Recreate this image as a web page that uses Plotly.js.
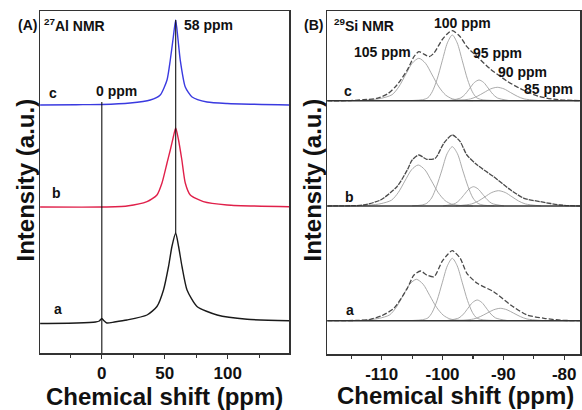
<!DOCTYPE html>
<html>
<head>
<meta charset="utf-8">
<script src="https://cdn.plot.ly/plotly-3.0.1.min.js"></script>
<style>html,body{margin:0;padding:0;background:#fff;}#chart{width:582px;height:410px;}</style>
</head>
<body>
<div id="chart"></div>
<script>
// ---------- 27Al NMR (panel A): chemical shift (ppm) and intensity above each trace's baseline ----------
const alC_x = [-49, -20, 0, 22.5, 38.5, 46.4, 51.8, 54.4, 56.8, 58.7, 60.5, 62.3, 66.3, 71.7, 83.6, 99.5, 149];
const alC_y = [0, 0.3, 0.5, 2, 5, 10, 25, 45, 68, 85, 66, 45, 18, 8, 3, 1.5, 0];
const alB_x = [-49, 0, 20, 35.9, 43.8, 47.8, 51.8, 54.4, 56.8, 58.7, 60.8, 63.6, 66.3, 70.3, 80.7, 99.5, 149];
const alB_y = [0, 0, 1, 5.3, 12, 24, 44, 57, 70, 79, 68, 47, 24, 12, 5.3, 2, 0.3];
const alA_x = [-49, -20, -5, -2, 0, 1.5, 4, 10, 20, 35.9, 43.8, 49, 53, 55.7, 58.7, 61, 63.7, 67.7, 75.6, 91.6, 115.4, 149];
const alA_y = [0, 0.5, 1.5, 2.5, 5, 3, 0.5, 1.5, 3.5, 8.5, 17, 33.5, 57, 77, 90.5, 77, 57, 33.5, 17, 8.5, 4.2, 2.8];
const alOffsets = [248, 146, 29.5];          // c, b, a
const alNames = ['c', 'b', 'a'];
// reference lines at 0 ppm and 58 ppm
const alRefX = [0, 58.7];
const alRefLow = [0, 120];
const alRefHigh = [251, 333];

// ---------- 29Si NMR (panel B) ----------
const siC_env_x = [-119, -115.7, -113, -110.8, -109, -107.5, -105.8, -104.7, -103.9, -102.9, -102.2, -101.4, -100.1, -99.2, -98.4, -97.1, -96, -94.3, -92.2, -89.5, -87.2, -84, -81, -77.4];
const siC_env_y = [0, 0, 1, 2.4, 7, 15.7, 30.7, 44, 49, 46, 44, 47.7, 60.7, 67, 70, 64, 54, 44, 32, 20, 12, 4, 1, 0];
const siC_q4a_x = [-113, -111, -110, -108.3, -107.2, -106.1, -105, -103.9, -102.8, -101.7, -100.6, -99.5, -98.4, -97, -95];
const siC_q4a_y = [0.5, 1.5, 2.5, 6, 13.8, 25.7, 37.4, 42.4, 37.4, 25.7, 13.8, 5.7, 1.9, 0.5, 0];
const siC_q4b_x = [-105, -103.3, -102.4, -101.7, -100.9, -100.05, -99.2, -98.4, -97.6, -96.75, -95.9, -95.1, -94.4, -93.5, -91.5];
const siC_q4b_y = [0.2, 1, 3, 8.9, 21.4, 39.9, 57.9, 65.7, 57.9, 39.9, 21.4, 8.9, 3, 1, 0.2];
const siC_q3_x = [-99, -97, -96.25, -95.5, -94.75, -94, -93.25, -92.5, -91.75, -91, -89];
const siC_q3_y = [0.1, 2.8, 6.7, 12.6, 18.3, 20.7, 18.3, 12.6, 6.7, 2.8, 0.1];
const siC_q2_x = [-98, -95.4, -94.3, -93.2, -92.1, -91, -89.9, -88.8, -87.7, -86.6, -84];
const siC_q2_y = [0.1, 1.8, 4.4, 8.1, 11.8, 13.4, 11.8, 8.1, 4.4, 1.8, 0.1];

const siB_env_x = [-119, -115, -113, -110.2, -107.5, -105.8, -105, -103.9, -102.6, -101.2, -99.8, -98.4, -97.1, -96, -94.3, -91.6, -88.8, -86.6, -83.9, -80.6, -77.4];
const siB_env_y = [0, 0.3, 1, 6, 19.3, 36, 46, 51, 46.7, 47.7, 62.7, 71, 64.3, 51, 41, 29.3, 16, 7.7, 4.3, 1, 0];
const siB_q4a_x = [-113, -111, -110.1, -108.4, -107.3, -106.2, -105.1, -104, -102.9, -101.8, -100.7, -99.6, -98.5, -97, -95];
const siB_q4a_y = [0.5, 1.5, 2.4, 5.8, 13.3, 24.9, 36.2, 41, 36.2, 24.9, 13.3, 5.5, 1.8, 0.5, 0];
const siB_q4b_x = [-105, -103.5, -102.6, -101.8, -101, -100.1, -99.25, -98.4, -97.55, -96.7, -95.8, -95, -94.2, -93.3, -91.5];
const siB_q4b_y = [0.2, 0.9, 2.7, 8.0, 19.3, 36, 52.3, 59.3, 52.3, 36, 19.3, 8.0, 2.7, 0.9, 0.2];
const siB_q3_x = [-99.9, -97.9, -97.15, -96.4, -95.65, -94.9, -94.15, -93.4, -92.65, -91.9, -89.9];
const siB_q3_y = [0.1, 2.6, 6.3, 11.7, 17, 19.3, 17, 11.7, 6.3, 2.6, 0.1];
const siB_q2_x = [-97.8, -95.2, -94.1, -93, -91.9, -90.8, -89.7, -88.6, -87.5, -86.4, -83.8];
const siB_q2_y = [0.1, 2.1, 5, 9.3, 13.5, 15.3, 13.5, 9.3, 5, 2.1, 0.1];

const siA_env_x = [-119, -114, -111.9, -110, -108, -105.8, -104.7, -103.6, -102.6, -101.4, -100.1, -99.2, -98.4, -97.1, -96, -94.3, -91.6, -88.8, -86.1, -83.3, -80.6, -77.4];
const siA_env_y = [0, 0.3, 1.3, 5, 12.4, 32.4, 45.7, 49.7, 45.7, 44, 59, 66, 70, 62.4, 47.4, 37.4, 29, 15.7, 5.7, 2.4, 0.5, 0];
const siA_q4a_x = [-113.3, -111.3, -110.4, -108.7, -107.6, -106.5, -105.4, -104.3, -103.2, -102.1, -101, -99.9, -98.8, -97.3, -95.3];
const siA_q4a_y = [0.5, 1.5, 2.4, 5.8, 13.5, 25.1, 36.5, 41.4, 36.5, 25.1, 13.5, 5.6, 1.8, 0.5, 0];
const siA_q4b_x = [-105, -103.3, -102.4, -101.7, -100.9, -100.05, -99.2, -98.4, -97.6, -96.75, -95.9, -95.1, -94.4, -93.5, -91.5];
const siA_q4b_y = [0.2, 1, 2.8, 8.4, 20.3, 37.9, 55, 62.4, 55, 37.9, 20.3, 8.4, 2.8, 1, 0.2];
const siA_q3_x = [-99.3, -97.3, -96.55, -95.8, -95.05, -94.3, -93.55, -92.8, -92.05, -91.3, -89.3];
const siA_q3_y = [0.1, 2.8, 6.7, 12.6, 18.3, 20.7, 18.3, 12.6, 6.7, 2.8, 0.1];
const siA_q2_x = [-97.5, -94.9, -93.8, -92.7, -91.6, -90.5, -89.4, -88.3, -87.2, -86.1, -83.5];
const siA_q2_y = [0.1, 1.7, 4.1, 7.5, 10.9, 12.4, 10.9, 7.5, 4.1, 1.7, 0.1];

const siOffsets = [253.3, 148, 33.3];        // c, b, a

// tick labels
const alTickVals = [0, 50, 100];
const alTickText = ['0', '50', '100'];
const siTickVals = [-110, -100, -90, -80];
const siTickText = ['-110', '-100', '-90', '-80'];

// ---------- build ----------
const W = 582, H = 410;
const FONT = '"Liberation Sans", Arial, Helvetica, sans-serif';
const add = (arr, off) => arr.map(v => v + off);
const traces = [];

const alSeries = [[alC_x, alC_y, '#3a3ae0'], [alB_x, alB_y, '#e0204a'], [alA_x, alA_y, '#1a1a1a']];
alSeries.forEach((s, i) => {
  traces.push({x: s[0], y: add(s[1], alOffsets[i]), type: 'scatter', mode: 'lines',
    line: {color: s[2], width: 1.4, shape: 'spline', smoothing: 0.6}, xaxis: 'x', yaxis: 'y', name: alNames[i], hoverinfo: 'skip'});
});
alRefX.forEach((xv, i) => {
  traces.push({x: [xv, xv], y: [alRefLow[i], alRefHigh[i]], type: 'scatter', mode: 'lines',
    line: {color: '#111', width: 1.1}, xaxis: 'x', yaxis: 'y', hoverinfo: 'skip'});
});

const siSets = [
  [siC_env_x, siC_env_y, [[siC_q4a_x, siC_q4a_y], [siC_q4b_x, siC_q4b_y], [siC_q3_x, siC_q3_y], [siC_q2_x, siC_q2_y]]],
  [siB_env_x, siB_env_y, [[siB_q4a_x, siB_q4a_y], [siB_q4b_x, siB_q4b_y], [siB_q3_x, siB_q3_y], [siB_q2_x, siB_q2_y]]],
  [siA_env_x, siA_env_y, [[siA_q4a_x, siA_q4a_y], [siA_q4b_x, siA_q4b_y], [siA_q3_x, siA_q3_y], [siA_q2_x, siA_q2_y]]]
];
siSets.forEach((set, i) => {
  set[2].forEach(c => {
    traces.push({x: c[0], y: add(c[1], siOffsets[i]), type: 'scatter', mode: 'lines',
      line: {color: '#a0a0a0', width: 0.9, shape: 'spline', smoothing: 0.8}, xaxis: 'x2', yaxis: 'y2', hoverinfo: 'skip'});
  });
  traces.push({x: set[0], y: add(set[1], siOffsets[i]), type: 'scatter', mode: 'lines',
    line: {color: '#4a4a4a', width: 1.3, dash: i === 1 ? '5px,1px' : '5px,2px', shape: 'spline', smoothing: 0.7},
    xaxis: 'x2', yaxis: 'y2', hoverinfo: 'skip'});
});

const shapes = siOffsets.map(off => ({type: 'line', xref: 'x2 domain', x0: 0, x1: 1, yref: 'y2', y0: off, y1: off,
  line: {color: '#333', width: 1.6}}));

const axisCommon = {showgrid: false, zeroline: false, showline: true, mirror: true, linecolor: '#333', linewidth: 1.5,
  ticks: 'outside', ticklen: 4, tickwidth: 1.2, tickcolor: '#333', ticklabelstandoff: 0,
  tickfont: {family: FONT, size: 17, color: '#111', weight: 'bold'}};

const px = v => v / W, py = v => 1 - v / H;
const ann = (text, x, y, size, xanchor, extra) => Object.assign({text: text, xref: 'paper', yref: 'paper', x: px(x), y: py(y),
  xanchor: xanchor || 'left', yanchor: 'middle', showarrow: false, font: {family: FONT, size: size, color: '#111'}}, extra || {});

const annotations = [
  ann('<b>(A)</b>', 16, 25, 14),
  ann('<b><sup>27</sup>Al NMR</b>', 42, 25, 14),
  ann('<b>58 ppm</b>', 182, 25, 14),
  ann('<b>c</b>', 47, 93, 14),
  ann('<b>0 ppm</b>', 94, 91, 14),
  ann('<b>b</b>', 50, 193, 14),
  ann('<b>a</b>', 52, 308.5, 14),
  ann('<b>(B)</b>', 302, 25, 14),
  ann('<b><sup>29</sup>Si NMR</b>', 332, 25, 14),
  ann('<b>100 ppm</b>', 432, 23, 14),
  ann('<b>105 ppm</b>', 352, 52, 14),
  ann('<b>95 ppm</b>', 471, 53, 14),
  ann('<b>90 ppm</b>', 496, 72, 14),
  ann('<b>85 ppm</b>', 522, 89.5, 14),
  ann('<b>c</b>', 342, 91.5, 14),
  ann('<b>b</b>', 343, 197, 14),
  ann('<b>a</b>', 344, 310, 14),
  ann('<b>Chemical shift (ppm)</b>', 164, 396, 24, 'center'),
  ann('<b>Chemical shift (ppm)</b>', 455, 395, 24, 'center'),
  ann('<b>Intensity (a.u.)</b>', 25, 180.5, 24, 'center', {textangle: -90}),
  ann('<b>Intensity (a.u.)</b>', 312, 180.5, 24, 'center', {textangle: -90})
];

const layout = {
  width: W, height: H, margin: {l: 0, r: 0, t: 0, b: 0, pad: 0},
  paper_bgcolor: '#fff', plot_bgcolor: '#fff', showlegend: false,
  font: {family: FONT},
  xaxis: Object.assign({}, axisCommon, {domain: [px(40), px(289)], range: [-49.1, 148.7],
    tickmode: 'array', tickvals: alTickVals, ticktext: alTickText,
    minor: {dtick: 25, tick0: 0, ticks: 'outside', ticklen: 3, tickcolor: '#333', showgrid: false}, anchor: 'y'}),
  yaxis: {domain: [py(353), py(11)], range: [0, 342], showgrid: false, zeroline: false, showline: true, mirror: true,
    linecolor: '#333', linewidth: 1.5, ticks: '', showticklabels: false, anchor: 'x'},
  xaxis2: Object.assign({}, axisCommon, {domain: [px(327.3), px(580)], range: [-118.95, -77.4],
    tickmode: 'array', tickvals: siTickVals, ticktext: siTickText,
    minor: {dtick: 5, tick0: 0, ticks: 'outside', ticklen: 3, tickcolor: '#333', showgrid: false}, anchor: 'y2'}),
  yaxis2: {domain: [py(354), py(11)], range: [0, 343], showgrid: false, zeroline: false, showline: true, mirror: true,
    linecolor: '#333', linewidth: 1.5, ticks: '', showticklabels: false, anchor: 'x2'},
  shapes: shapes,
  annotations: annotations
};

Plotly.newPlot('chart', traces, layout, {staticPlot: true, displayModeBar: false});
</script>
</body>
</html>
